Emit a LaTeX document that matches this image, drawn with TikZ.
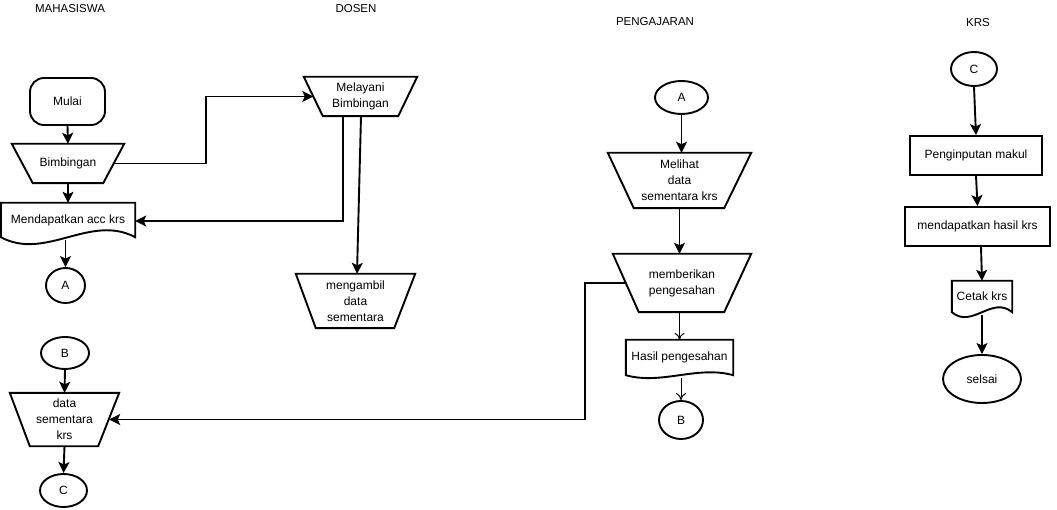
\documentclass[tikz,border=0pt]{standalone}
\usepackage{fontspec}
\setmainfont{Liberation Sans}
\usetikzlibrary{shapes.geometric,arrows.meta,calc}
\newcommand\trapz[3]{\draw[shp] (#1.north west) -- (#1.north east) -- ($(#1.south east)+(-#3,0)$) -- ($(#1.south west)+(#2,0)$) -- cycle;}
\newcommand\docz[2]{\draw[shp] (#1.south west) -- (#1.north west) -- (#1.north east) -- (#1.south east) .. controls ($(#1.south east)!0.3333!(#1.south west)+(0,-#2)$) and ($(#1.south east)!0.6667!(#1.south west)+(0,#2)$) .. (#1.south west) -- cycle;}
\begin{document}
\begin{tikzpicture}[x=1pt,y=-1pt,
  shp/.style={line width=1.9pt},
  box/.style={inner sep=0pt, align=center, font=\fontsize{12}{16}\selectfont, text=black},
  frame/.style={box, draw, line width=1.9pt},
  ell/.style={box, draw, ellipse, line width=1.9pt},
  arr/.style={line width=1.9pt, -{Stealth[length=11pt,width=11pt,inset=2.5pt]}},
  tarr/.style={line width=1pt, -{To[length=7pt,width=10pt]}},
  ttl/.style={font=\fontsize{11.5}{13}\selectfont, text=black}
]
\useasboundingbox (0,0) rectangle (1057,510);
% titles
\node[ttl] (t1) at (70,9) {MAHASISWA};
\node[ttl] (t2) at (356,9) {DOSEN};
\node[ttl] (t3) at (655,22) {PENGAJARAN};
\node[ttl] (t4) at (978,23) {KRS};
% MAHASISWA
\node[frame, rounded corners=14pt, minimum width=75pt, minimum height=47pt] (mulai) at (67.5,101.5) {Mulai};
\node[box, minimum width=112pt, minimum height=39pt] (bimb) at (68,163.5) {Bimbingan};
\trapz{bimb}{21}{21}
\node[box, minimum width=134pt, minimum height=34pt] (mend) at (68,220) {Mendapatkan acc krs};
\docz{mend}{24}
\node[ell, minimum width=39pt, minimum height=35pt] (A1) at (65.5,285.5) {A};
\node[ell, minimum width=48pt, minimum height=32pt] (B1) at (65,353) {B};
\node[box, minimum width=109pt, minimum height=53pt] (data) at (64.5,419.5) {data\\sementara\\krs};
\trapz{data}{20}{21}
\node[ell, minimum width=47pt, minimum height=33pt] (C1) at (63.5,490.5) {C};
% DOSEN
\node[box, minimum width=113pt, minimum height=39pt] (mel) at (360.5,96.5) {Melayani\\Bimbingan};
\trapz{mel}{19}{19}
\node[box, minimum width=119pt, minimum height=54pt] (meng) at (355.5,301) {mengambil\\data\\sementara};
\trapz{meng}{20}{21}
% PENGAJARAN
\node[ell, minimum width=53pt, minimum height=33pt] (A2) at (681.5,97.5) {A};
\node[box, minimum width=143pt, minimum height=55pt] (mel2) at (679.5,180.5) {Melihat\\data\\sementara krs};
\trapz{mel2}{26}{27}
\node[box, minimum width=138pt, minimum height=58pt] (mem) at (682,283) {memberikan\\pengesahan};
\trapz{mem}{26}{27}
\node[box, minimum width=107pt, minimum height=35pt] (hasil) at (679.5,357.5) {Hasil pengesahan};
\docz{hasil}{10}
\node[ell, minimum width=44pt, minimum height=38pt] (B2) at (681,420) {B};
% KRS
\node[ell, minimum width=46pt, minimum height=34pt] (C3) at (974,69) {C};
\node[frame, minimum width=132pt, minimum height=39pt] (pen) at (976,155.5) {Penginputan makul};
\node[frame, minimum width=145pt, minimum height=39pt] (mdh) at (977.5,226.5) {mendapatkan hasil krs};
\node[box, minimum width=60pt, minimum height=31pt] (cetak) at (982,296.5) {Cetak krs};
\docz{cetak}{17}
\node[ell, minimum width=78pt, minimum height=48pt] (selsai) at (982,379) {selsai};
% connectors
\draw[arr] (mulai.south) -- (bimb.north);
\draw[arr] (bimb.south) -- (mend.north);
\draw[arr] ($(A1.north |- mend.south)+(0,3)$) -- (A1.north);
\draw[arr] ($(bimb.east)+(-10.5,0)$) -- ++(92,0) |- ($(mel.west)+(9.5,0)$);
\draw[arr] ($(mel.south)+(-17.5,0)$) |- ($(mend.east)+(0,1)$);
\draw[arr] ($(mel.south)+(0.5,0)$) -- ($(meng.north)+(1.5,0)$);
\draw[arr] (B1.south) -- (data.north);
\draw[arr] (data.south) -- (C1.north);
\draw[arr] ($(mem.west)+(12.5,0)$) -- ++(-40.5,0) |- ($(data.east)+(-10,0)$);
\draw[arr] (A2.south) -- (A2.south |- mel2.north);
\draw[arr] (mel2.south) -- (mel2.south |- mem.north);
\draw[tarr] (hasil.north |- mem.south) -- (hasil.north);
\draw[tarr] ($(B2.north |- hasil.south)+(0,3)$) -- (B2.north);
\draw[arr] (C3.south) -- (pen.north);
\draw[arr] (pen.south) -- (mdh.north);
\draw[arr] ($(mdh.south)+(3.5,0)$) -- (cetak.north);
\draw[arr] ($(cetak.south)+(0,3)$) -- (selsai.north);
\end{tikzpicture}
\end{document}
